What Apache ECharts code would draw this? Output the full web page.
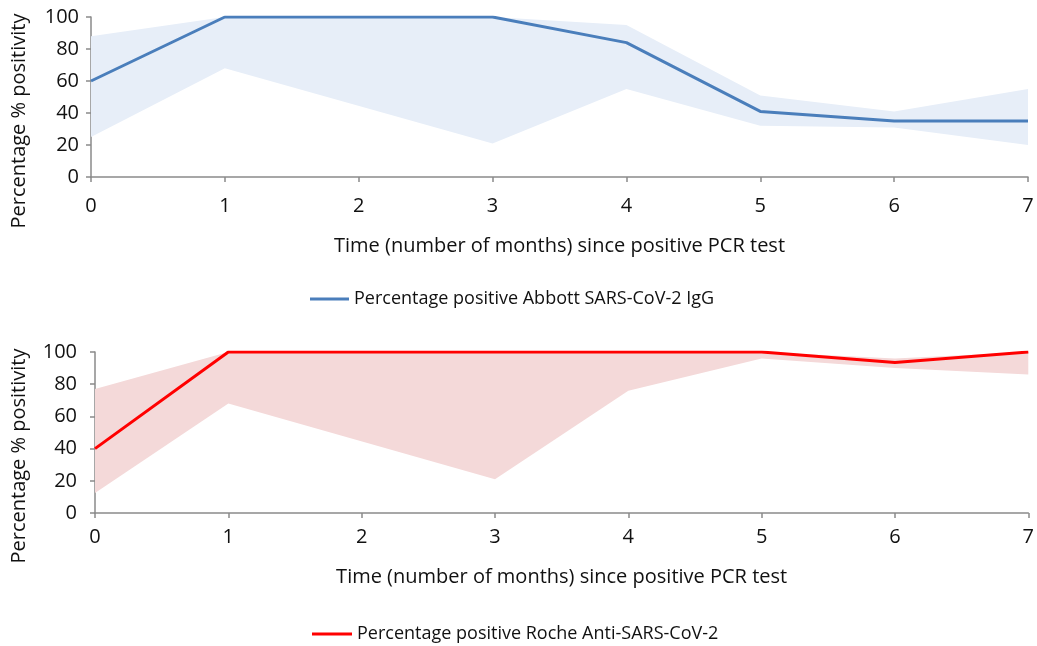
<!DOCTYPE html>
<html>
<head>
<meta charset="utf-8">
<script src="https://cdn.jsdelivr.net/npm/echarts@6/dist/echarts.min.js"></script>
<style>
html,body{margin:0;padding:0;background:#fff;}
#chart{width:1037px;height:646px;}
</style>
</head>
<body>
<div id="chart"></div>
<script>
// ---- data ----
const months = [0, 1, 2, 3, 4, 5, 6, 7];
const xTickLabels = ['0', '1', '2', '3', '4', '5', '6', '7'];
const yTickLabels = ['0', '20', '40', '60', '80', '100'];

const abbottName = 'Percentage positive Abbott SARS-CoV-2 IgG';
const abbottPct = [60, 100, 100, 100, 84, 41, 35, 35];
const abbottCiMonths = [0, 1, 3, 4, 5, 6, 7];
const abbottLower = [25, 68, 21, 55, 32, 31, 20];
const abbottUpper = [88, 100, 100, 95, 51, 41, 55];

const rocheName = 'Percentage positive Roche Anti-SARS-CoV-2';
const rochePct = [40, 100, 100, 100, 100, 100, 93.5, 100];
const rocheCiMonths = [0, 1, 3, 4, 5, 6, 7];
const rocheLower = [12.5, 68, 21, 76, 96, 90, 86];
const rocheUpper = [77, 100, 100, 100, 100, 96, 100];

const xTitle = 'Time (number of months) since positive PCR test';
const yTitle = 'Percentage % positivity';

// ---- helpers ----
const FONT = 'Open Sans';
const TXT = '#111';
const AX = '#8a8a8a';
const FS = 20;

function pairs(xs, ys) { return xs.map((x, i) => [x, ys[i]]); }

function xAxisCfg(gridIndex, labelMargin, nameGap) {
  return {
    gridIndex, type: 'value', min: 0, max: 7, interval: 1,
    name: xTitle, nameLocation: 'middle', nameGap,
    nameTextStyle: { fontFamily: FONT, fontSize: FS, color: TXT },
    axisLine: { show: true, lineStyle: { color: AX, width: 1.5 } },
    axisTick: { show: true, inside: false, length: 5, lineStyle: { color: AX, width: 1.5 } },
    axisLabel: { margin: labelMargin, fontFamily: FONT, fontSize: FS, color: TXT,
      formatter: v => xTickLabels[months.indexOf(v)] },
    splitLine: { show: false }
  };
}
function yAxisCfg(gridIndex, labelMargin) {
  return {
    gridIndex, type: 'value', min: 0, max: 100, interval: 20,
    axisLine: { show: true, lineStyle: { color: AX, width: 1.5 } },
    axisTick: { show: true, inside: false, length: 5, lineStyle: { color: AX, width: 1.5 } },
    axisLabel: { margin: labelMargin, fontFamily: FONT, fontSize: FS, color: TXT,
      formatter: v => yTickLabels[v / 20] },
    splitLine: { show: false }
  };
}
// confidence band drawn as one polygon through the axis scales
function bandSeries(idx, xs, lo, hi, fill) {
  return {
    type: 'custom', xAxisIndex: idx, yAxisIndex: idx, silent: true, z: 1,
    data: xs.map((x, i) => [x, lo[i], hi[i]]),
    encode: { x: 0, y: [1, 2] },
    renderItem: (params, api) => {
      if (params.dataIndex !== 0) return null;
      const upperPts = xs.map((x, i) => api.coord([x, hi[i]]));
      const lowerPts = xs.map((x, i) => api.coord([x, lo[i]])).reverse();
      return { type: 'polygon', shape: { points: upperPts.concat(lowerPts) },
        style: { fill: fill, stroke: null } };
    }
  };
}

const chart = echarts.init(document.getElementById('chart'), null, { renderer: 'canvas' });
chart.setOption({
  animation: false,
  backgroundColor: '#fff',
  grid: [
    { left: 91, width: 937, top: 17, height: 160 },
    { left: 95, width: 936, top: 352, height: 161 }
  ],
  xAxis: [xAxisCfg(0, 19, 59), xAxisCfg(1, 14, 54)],
  yAxis: [yAxisCfg(0, 12), yAxisCfg(1, 18)],
  legend: [
    { data: [abbottName], left: 305, top: 285, icon: 'rect', itemWidth: 39, itemHeight: 3, itemGap: 5,
      textStyle: { fontFamily: FONT, fontSize: 18, color: TXT } },
    { data: [rocheName], left: 307, top: 620, icon: 'rect', itemWidth: 40, itemHeight: 3, itemGap: 5,
      textStyle: { fontFamily: FONT, fontSize: 18, color: TXT } }
  ],
  graphic: [
    { type: 'text', x: 19, y: 121, rotation: Math.PI / 2,
      style: { text: yTitle, fontFamily: FONT, fontSize: FS, fill: TXT, align: 'center', verticalAlign: 'middle' } },
    { type: 'text', x: 19, y: 456, rotation: Math.PI / 2,
      style: { text: yTitle, fontFamily: FONT, fontSize: FS, fill: TXT, align: 'center', verticalAlign: 'middle' } }
  ],
  series: [
    bandSeries(0, abbottCiMonths, abbottLower, abbottUpper, '#e7eef8'),
    { name: abbottName, type: 'line', xAxisIndex: 0, yAxisIndex: 0, data: pairs(months, abbottPct),
      symbol: 'none', color: '#4a7ebb', lineStyle: { color: '#4a7ebb', width: 3 }, z: 3 },
    bandSeries(1, rocheCiMonths, rocheLower, rocheUpper, '#f4d9d9'),
    { name: rocheName, type: 'line', xAxisIndex: 1, yAxisIndex: 1, data: pairs(months, rochePct),
      symbol: 'none', color: '#ff0000', lineStyle: { color: '#ff0000', width: 3 }, z: 3 }
  ]
});
</script>
</body>
</html>
